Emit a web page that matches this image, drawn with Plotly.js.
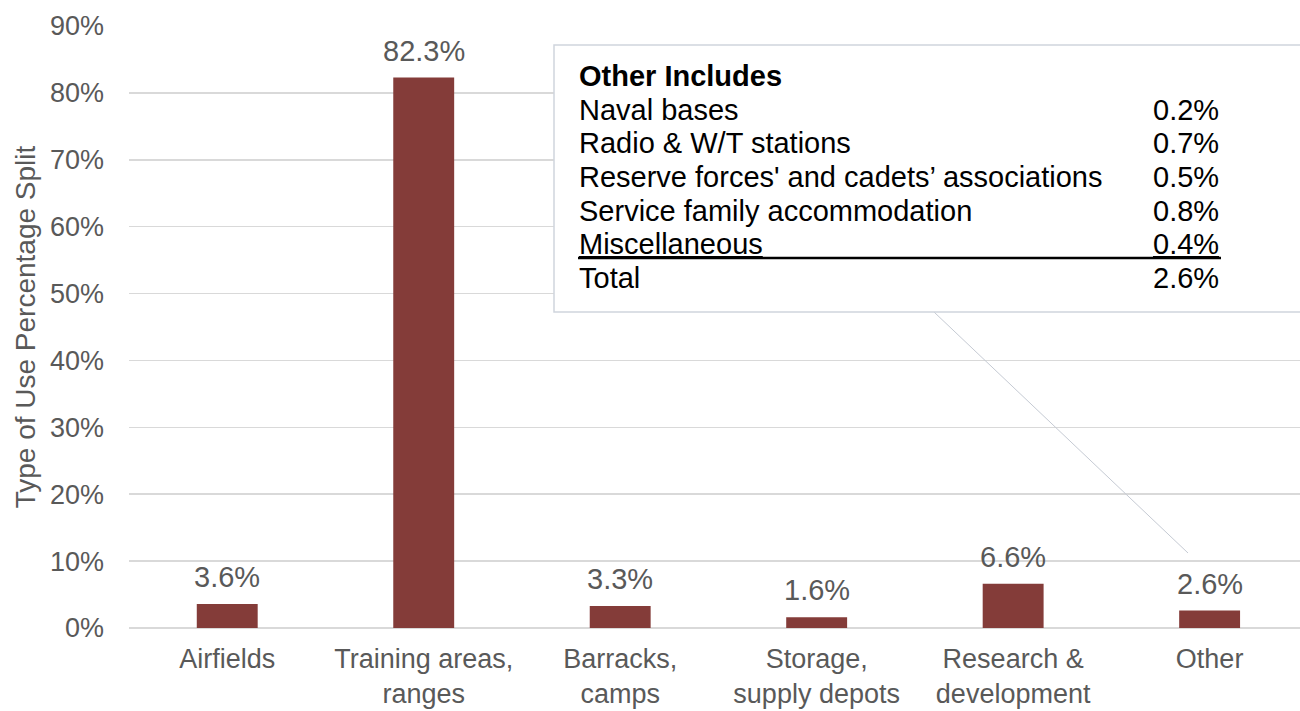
<!DOCTYPE html>
<html>
<head>
<meta charset="utf-8">
<script src="https://cdn.plot.ly/plotly-3.0.1.min.js"></script>
<style>html,body{margin:0;padding:0;background:#fff;}#chart{width:1300px;height:711px;}</style>
</head>
<body>
<div id="chart"></div>
<script>
const categories = ["Airfields", "Training areas,<br>ranges", "Barracks,<br>camps", "Storage,<br>supply depots", "Research &<br>development", "Other"];
const shares = [3.6, 82.3, 3.3, 1.6, 6.6, 2.6];
const valueLabels = ["3.6%", "82.3%", "3.3%", "1.6%", "6.6%", "2.6%"];
const yTickVals = [0, 10, 20, 30, 40, 50, 60, 70, 80, 90];
const yTickText = ["0%", "10%", "20%", "30%", "40%", "50%", "60%", "70%", "80%", "90%"];
const otherTitle = "Other Includes";
const otherItems = ["Naval bases", "Radio & W/T stations", "Reserve forces' and cadets\u2019 associations", "Service family accommodation", "Miscellaneous"];
const otherValues = ["0.2%", "0.7%", "0.5%", "0.8%", "0.4%"];
const otherTotalLabel = "Total";
const otherTotalValue = "2.6%";

const FONT = '"Liberation Sans", Arial, sans-serif';
const GREY = '#595959';
const W = 1300, H = 711;
const M = {l: 129, r: 0, t: 26, b: 83};
const pw = W - M.l - M.r, ph = H - M.t - M.b;
const px = x => (x - M.l) / pw;
const py = y => (H - M.b - y) / ph;

const annotations = [];
categories.forEach((c, i) => {
  annotations.push({x: c, y: shares[i], xref: 'x', yref: 'y', text: valueLabels[i], showarrow: false,
    yanchor: 'middle', yshift: 27, font: {family: FONT, size: 29, color: GREY}});
});
annotations.push({x: px(577), y: py(76), xref: 'paper', yref: 'paper', text: '<b>' + otherTitle + '</b>',
  showarrow: false, xanchor: 'left', yanchor: 'middle', font: {family: FONT, size: 29, color: '#000'}});
const rowY = [110, 143, 177, 211, 244];
otherItems.forEach((t, i) => {
  const last = i === otherItems.length - 1;
  annotations.push({x: px(577), y: py(rowY[i]), xref: 'paper', yref: 'paper', text: last ? '<u>' + t + '</u>' : t,
    showarrow: false, xanchor: 'left', yanchor: 'middle', font: {family: FONT, size: 29, color: '#000'}});
  annotations.push({x: px(1221), y: py(rowY[i]), xref: 'paper', yref: 'paper', text: last ? '<u>' + otherValues[i] + '</u>' : otherValues[i],
    showarrow: false, xanchor: 'right', yanchor: 'middle', font: {family: FONT, size: 29, color: '#000'}});
});
annotations.push({x: px(577), y: py(278), xref: 'paper', yref: 'paper', text: otherTotalLabel,
  showarrow: false, xanchor: 'left', yanchor: 'middle', font: {family: FONT, size: 29, color: '#000'}});
annotations.push({x: px(1221), y: py(278), xref: 'paper', yref: 'paper', text: otherTotalValue,
  showarrow: false, xanchor: 'right', yanchor: 'middle', font: {family: FONT, size: 29, color: '#000'}});

const shapes = [
  {type: 'line', xref: 'paper', yref: 'paper', x0: px(934), y0: py(312), x1: px(1188), y1: py(553),
   line: {color: '#c5cad3', width: 1}},
  {type: 'rect', xref: 'paper', yref: 'paper', x0: px(554), y0: py(312), x1: px(1310), y1: py(45),
   fillcolor: '#ffffff', line: {color: '#d0d5dd', width: 1.5}},
  {type: 'line', xref: 'paper', yref: 'paper', x0: px(578), y0: py(258), x1: px(1221), y1: py(258),
   line: {color: '#000000', width: 2.5}}
];

const trace = {
  type: 'bar', x: categories, y: shares, width: 0.31,
  marker: {color: '#843C39'}, hoverinfo: 'skip'
};

const layout = {
  width: W, height: H, margin: M,
  paper_bgcolor: '#fff', plot_bgcolor: '#fff',
  showlegend: false,
  font: {family: FONT, size: 27, color: GREY},
  xaxis: {type: 'category', range: [-0.5, 5.46], showgrid: false, zeroline: false, showline: false,
    ticks: '', tickfont: {family: FONT, size: 27, color: GREY}, ticklabelstandoff: 12},
  yaxis: {range: [0, 90], tickvals: yTickVals, ticktext: yTickText, showgrid: true, gridcolor: '#d9d9d9', gridwidth: 1.5,
    zeroline: true, zerolinecolor: '#d9d9d9', zerolinewidth: 1.5, showline: false, ticks: '',
    ticklabelstandoff: 24, tickfont: {family: FONT, size: 27, color: GREY},
    title: {text: 'Type of Use Percentage Split', font: {family: FONT, size: 28, color: GREY}, standoff: 6}},
  annotations: annotations,
  shapes: shapes
};

Plotly.newPlot('chart', [trace], layout, {displayModeBar: false, staticPlot: true});
</script>
</body>
</html>
